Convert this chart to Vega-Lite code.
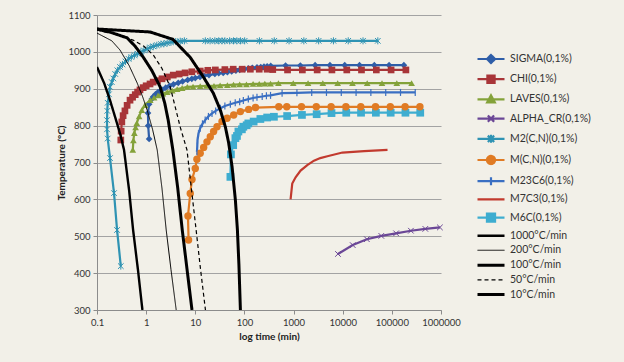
{
  "$schema": "https://vega.github.io/schema/vega-lite/v6.json",
  "autosize": "none",
  "width": 344,
  "height": 295,
  "padding": {"left": 97, "top": 15, "right": 183, "bottom": 52},
  "background": "#f2f0e8",
  "config": {
    "view": {"stroke": null},
    "font": "Lato",
    "axis": {"labelFont": "Lato", "labelFontSize": 9.5, "labelColor": "#333333", "titleFont": "Lato", "titleFontSize": 10, "titleFontWeight": "bold", "titleColor": "#222222", "domainColor": "#8c8c8c", "tickColor": "#8c8c8c", "tickSize": 4},
    "legend": {"orient": "none", "legendX": 388, "legendY": 38, "title": null, "symbolSize": 81, "labelOffset": 13, "rowPadding": 3.2, "columns": 1, "labelAlign": "left", "labelFont": "Lato", "labelFontSize": 10.5, "labelColor": "#333333", "padding": 0}
  },
  "datasets": {
    "d": [
      {"s":"SIGMA(0,1%)","t":1.15,"T":764},{"s":"SIGMA(0,1%)","t":1.1,"T":800},{"s":"SIGMA(0,1%)","t":1.09,"T":834},{"s":"SIGMA(0,1%)","t":1.15,"T":858},{"s":"SIGMA(0,1%)","t":1.3,"T":872},{"s":"SIGMA(0,1%)","t":1.39,"T":878},{"s":"SIGMA(0,1%)","t":1.55,"T":885},{"s":"SIGMA(0,1%)","t":1.75,"T":891},{"s":"SIGMA(0,1%)","t":2.12,"T":897},{"s":"SIGMA(0,1%)","t":2.5,"T":903},{"s":"SIGMA(0,1%)","t":3,"T":908},{"s":"SIGMA(0,1%)","t":3.6,"T":912},{"s":"SIGMA(0,1%)","t":4.5,"T":916},{"s":"SIGMA(0,1%)","t":5.5,"T":920},{"s":"SIGMA(0,1%)","t":7,"T":924},{"s":"SIGMA(0,1%)","t":8.5,"T":927},{"s":"SIGMA(0,1%)","t":10,"T":929},{"s":"SIGMA(0,1%)","t":12.5,"T":932},{"s":"SIGMA(0,1%)","t":15,"T":935},{"s":"SIGMA(0,1%)","t":19,"T":937},{"s":"SIGMA(0,1%)","t":25,"T":940},{"s":"SIGMA(0,1%)","t":30,"T":942},{"s":"SIGMA(0,1%)","t":37,"T":943},{"s":"SIGMA(0,1%)","t":45,"T":945},{"s":"SIGMA(0,1%)","t":55,"T":947},{"s":"SIGMA(0,1%)","t":67,"T":949},{"s":"SIGMA(0,1%)","t":80,"T":951},{"s":"SIGMA(0,1%)","t":100,"T":953},{"s":"SIGMA(0,1%)","t":120,"T":955},{"s":"SIGMA(0,1%)","t":145,"T":957},{"s":"SIGMA(0,1%)","t":180,"T":958},{"s":"SIGMA(0,1%)","t":215,"T":959},{"s":"SIGMA(0,1%)","t":250,"T":960},{"s":"SIGMA(0,1%)","t":290,"T":961},{"s":"SIGMA(0,1%)","t":343,"T":962},{"s":"SIGMA(0,1%)","t":687,"T":963},{"s":"SIGMA(0,1%)","t":1373,"T":963},{"s":"SIGMA(0,1%)","t":2747,"T":964},{"s":"SIGMA(0,1%)","t":5494,"T":964},{"s":"SIGMA(0,1%)","t":10987,"T":964},{"s":"SIGMA(0,1%)","t":21975,"T":964},{"s":"SIGMA(0,1%)","t":43950,"T":964},{"s":"SIGMA(0,1%)","t":87900,"T":964},{"s":"SIGMA(0,1%)","t":175800,"T":964},

      {"s":"CHI(0,1%)","t":0.305,"T":761},{"s":"CHI(0,1%)","t":0.31,"T":785},{"s":"CHI(0,1%)","t":0.32,"T":810},{"s":"CHI(0,1%)","t":0.34,"T":827},{"s":"CHI(0,1%)","t":0.37,"T":840},{"s":"CHI(0,1%)","t":0.41,"T":855},{"s":"CHI(0,1%)","t":0.47,"T":869},{"s":"CHI(0,1%)","t":0.53,"T":877},{"s":"CHI(0,1%)","t":0.6,"T":884},{"s":"CHI(0,1%)","t":0.67,"T":891},{"s":"CHI(0,1%)","t":0.75,"T":897},{"s":"CHI(0,1%)","t":0.87,"T":903},{"s":"CHI(0,1%)","t":1,"T":908},{"s":"CHI(0,1%)","t":1.2,"T":913},{"s":"CHI(0,1%)","t":1.39,"T":918},{"s":"CHI(0,1%)","t":1.7,"T":922},{"s":"CHI(0,1%)","t":2.1,"T":927},{"s":"CHI(0,1%)","t":2.7,"T":932},{"s":"CHI(0,1%)","t":3.56,"T":937},{"s":"CHI(0,1%)","t":4.7,"T":940},{"s":"CHI(0,1%)","t":6.2,"T":943},{"s":"CHI(0,1%)","t":8.5,"T":946},{"s":"CHI(0,1%)","t":12.6,"T":948},{"s":"CHI(0,1%)","t":18,"T":950},{"s":"CHI(0,1%)","t":25.6,"T":951},{"s":"CHI(0,1%)","t":40,"T":952},{"s":"CHI(0,1%)","t":59,"T":953},{"s":"CHI(0,1%)","t":90,"T":953},{"s":"CHI(0,1%)","t":132,"T":953},{"s":"CHI(0,1%)","t":200,"T":953},{"s":"CHI(0,1%)","t":290,"T":953},{"s":"CHI(0,1%)","t":377,"T":952},{"s":"CHI(0,1%)","t":754,"T":951},{"s":"CHI(0,1%)","t":1510,"T":951},{"s":"CHI(0,1%)","t":3020,"T":951},{"s":"CHI(0,1%)","t":6030,"T":951},{"s":"CHI(0,1%)","t":12100,"T":951},{"s":"CHI(0,1%)","t":24100,"T":951},{"s":"CHI(0,1%)","t":48300,"T":951},{"s":"CHI(0,1%)","t":96500,"T":951},{"s":"CHI(0,1%)","t":193000,"T":951},

      {"s":"LAVES(0,1%)","t":0.535,"T":734},{"s":"LAVES(0,1%)","t":0.55,"T":760},{"s":"LAVES(0,1%)","t":0.575,"T":780},{"s":"LAVES(0,1%)","t":0.61,"T":795},{"s":"LAVES(0,1%)","t":0.645,"T":807},{"s":"LAVES(0,1%)","t":0.72,"T":825},{"s":"LAVES(0,1%)","t":0.815,"T":842},{"s":"LAVES(0,1%)","t":0.95,"T":856},{"s":"LAVES(0,1%)","t":1.21,"T":869},{"s":"LAVES(0,1%)","t":1.45,"T":876},{"s":"LAVES(0,1%)","t":1.75,"T":882},{"s":"LAVES(0,1%)","t":2.2,"T":887},{"s":"LAVES(0,1%)","t":2.68,"T":891},{"s":"LAVES(0,1%)","t":3.4,"T":895},{"s":"LAVES(0,1%)","t":4.28,"T":899},{"s":"LAVES(0,1%)","t":5.4,"T":902},{"s":"LAVES(0,1%)","t":6.87,"T":905},{"s":"LAVES(0,1%)","t":9,"T":906},{"s":"LAVES(0,1%)","t":12.6,"T":907},{"s":"LAVES(0,1%)","t":17,"T":908},{"s":"LAVES(0,1%)","t":24,"T":908},{"s":"LAVES(0,1%)","t":32,"T":909},{"s":"LAVES(0,1%)","t":45,"T":910},{"s":"LAVES(0,1%)","t":60,"T":911},{"s":"LAVES(0,1%)","t":80,"T":912},{"s":"LAVES(0,1%)","t":110,"T":912},{"s":"LAVES(0,1%)","t":150,"T":913},{"s":"LAVES(0,1%)","t":200,"T":913},{"s":"LAVES(0,1%)","t":260,"T":914},{"s":"LAVES(0,1%)","t":340,"T":914},{"s":"LAVES(0,1%)","t":492,"T":915},{"s":"LAVES(0,1%)","t":985,"T":915},{"s":"LAVES(0,1%)","t":1970,"T":915},{"s":"LAVES(0,1%)","t":3940,"T":915},{"s":"LAVES(0,1%)","t":7900,"T":915},{"s":"LAVES(0,1%)","t":15800,"T":915},{"s":"LAVES(0,1%)","t":31500,"T":915},{"s":"LAVES(0,1%)","t":63000,"T":915},{"s":"LAVES(0,1%)","t":126000,"T":915},{"s":"LAVES(0,1%)","t":252000,"T":915},

      {"s":"ALPHA_CR(0,1%)","t":8000,"T":452},{"s":"ALPHA_CR(0,1%)","t":16000,"T":476},{"s":"ALPHA_CR(0,1%)","t":31000,"T":492},{"s":"ALPHA_CR(0,1%)","t":61000,"T":501},{"s":"ALPHA_CR(0,1%)","t":122000,"T":508},{"s":"ALPHA_CR(0,1%)","t":244000,"T":515},{"s":"ALPHA_CR(0,1%)","t":480000,"T":520},{"s":"ALPHA_CR(0,1%)","t":950000,"T":524},

      {"s":"M2(C,N)(0,1%)","t":0.305,"T":419},{"s":"M2(C,N)(0,1%)","t":0.256,"T":517},{"s":"M2(C,N)(0,1%)","t":0.222,"T":617},{"s":"M2(C,N)(0,1%)","t":0.184,"T":712},{"s":"M2(C,N)(0,1%)","t":0.165,"T":765},{"s":"M2(C,N)(0,1%)","t":0.16,"T":790},{"s":"M2(C,N)(0,1%)","t":0.16,"T":815},{"s":"M2(C,N)(0,1%)","t":0.162,"T":840},{"s":"M2(C,N)(0,1%)","t":0.165,"T":862},{"s":"M2(C,N)(0,1%)","t":0.175,"T":885},{"s":"M2(C,N)(0,1%)","t":0.184,"T":905},{"s":"M2(C,N)(0,1%)","t":0.2,"T":918},{"s":"M2(C,N)(0,1%)","t":0.215,"T":928},{"s":"M2(C,N)(0,1%)","t":0.235,"T":940},{"s":"M2(C,N)(0,1%)","t":0.26,"T":950},{"s":"M2(C,N)(0,1%)","t":0.294,"T":959},{"s":"M2(C,N)(0,1%)","t":0.33,"T":966},{"s":"M2(C,N)(0,1%)","t":0.38,"T":974},{"s":"M2(C,N)(0,1%)","t":0.44,"T":981},{"s":"M2(C,N)(0,1%)","t":0.5,"T":986},{"s":"M2(C,N)(0,1%)","t":0.58,"T":991},{"s":"M2(C,N)(0,1%)","t":0.67,"T":995},{"s":"M2(C,N)(0,1%)","t":0.78,"T":1000},{"s":"M2(C,N)(0,1%)","t":0.9,"T":1004},{"s":"M2(C,N)(0,1%)","t":1.05,"T":1008},{"s":"M2(C,N)(0,1%)","t":1.21,"T":1012},{"s":"M2(C,N)(0,1%)","t":1.4,"T":1015},{"s":"M2(C,N)(0,1%)","t":1.65,"T":1018},{"s":"M2(C,N)(0,1%)","t":2,"T":1021},{"s":"M2(C,N)(0,1%)","t":2.3,"T":1022},{"s":"M2(C,N)(0,1%)","t":2.68,"T":1024},{"s":"M2(C,N)(0,1%)","t":3.2,"T":1026},{"s":"M2(C,N)(0,1%)","t":4,"T":1028},{"s":"M2(C,N)(0,1%)","t":4.94,"T":1029},{"s":"M2(C,N)(0,1%)","t":6,"T":1030},{"s":"M2(C,N)(0,1%)","t":16,"T":1030},{"s":"M2(C,N)(0,1%)","t":20,"T":1030},{"s":"M2(C,N)(0,1%)","t":25,"T":1030},{"s":"M2(C,N)(0,1%)","t":30,"T":1030},{"s":"M2(C,N)(0,1%)","t":35,"T":1030},{"s":"M2(C,N)(0,1%)","t":40,"T":1030},{"s":"M2(C,N)(0,1%)","t":50,"T":1030},{"s":"M2(C,N)(0,1%)","t":60,"T":1030},{"s":"M2(C,N)(0,1%)","t":70,"T":1030},{"s":"M2(C,N)(0,1%)","t":83,"T":1030},{"s":"M2(C,N)(0,1%)","t":101,"T":1030},{"s":"M2(C,N)(0,1%)","t":202,"T":1030},{"s":"M2(C,N)(0,1%)","t":405,"T":1030},{"s":"M2(C,N)(0,1%)","t":809,"T":1030},{"s":"M2(C,N)(0,1%)","t":1619,"T":1030},{"s":"M2(C,N)(0,1%)","t":3237,"T":1030},{"s":"M2(C,N)(0,1%)","t":6475,"T":1030},{"s":"M2(C,N)(0,1%)","t":12950,"T":1030},{"s":"M2(C,N)(0,1%)","t":25900,"T":1030},{"s":"M2(C,N)(0,1%)","t":51800,"T":1030},

      {"s":"M(C,N)(0,1%)","t":7.3,"T":490},{"s":"M(C,N)(0,1%)","t":7.1,"T":555},{"s":"M(C,N)(0,1%)","t":7.9,"T":616},{"s":"M(C,N)(0,1%)","t":8.57,"T":654},{"s":"M(C,N)(0,1%)","t":10,"T":684},{"s":"M(C,N)(0,1%)","t":10.8,"T":709},{"s":"M(C,N)(0,1%)","t":12.6,"T":725},{"s":"M(C,N)(0,1%)","t":14.8,"T":741},{"s":"M(C,N)(0,1%)","t":17.3,"T":756},{"s":"M(C,N)(0,1%)","t":20.2,"T":770},{"s":"M(C,N)(0,1%)","t":23.6,"T":784},{"s":"M(C,N)(0,1%)","t":27.7,"T":797},{"s":"M(C,N)(0,1%)","t":35,"T":811},{"s":"M(C,N)(0,1%)","t":44.4,"T":820},{"s":"M(C,N)(0,1%)","t":60.5,"T":829},{"s":"M(C,N)(0,1%)","t":82.8,"T":838},{"s":"M(C,N)(0,1%)","t":122,"T":844},{"s":"M(C,N)(0,1%)","t":168,"T":849},{"s":"M(C,N)(0,1%)","t":500,"T":851},{"s":"M(C,N)(0,1%)","t":727,"T":851},{"s":"M(C,N)(0,1%)","t":1450,"T":851},{"s":"M(C,N)(0,1%)","t":2900,"T":851},{"s":"M(C,N)(0,1%)","t":5810,"T":851},{"s":"M(C,N)(0,1%)","t":11600,"T":851},{"s":"M(C,N)(0,1%)","t":23300,"T":851},{"s":"M(C,N)(0,1%)","t":46500,"T":851},{"s":"M(C,N)(0,1%)","t":93000,"T":851},{"s":"M(C,N)(0,1%)","t":186000,"T":851},{"s":"M(C,N)(0,1%)","t":372000,"T":851},

      {"s":"M23C6(0,1%)","t":10.8,"T":729},{"s":"M23C6(0,1%)","t":11,"T":745},{"s":"M23C6(0,1%)","t":11.1,"T":761},{"s":"M23C6(0,1%)","t":11.6,"T":778},{"s":"M23C6(0,1%)","t":12.6,"T":793},{"s":"M23C6(0,1%)","t":14,"T":805},{"s":"M23C6(0,1%)","t":15.9,"T":815},{"s":"M23C6(0,1%)","t":18.5,"T":825},{"s":"M23C6(0,1%)","t":21.9,"T":833},{"s":"M23C6(0,1%)","t":26,"T":840},{"s":"M23C6(0,1%)","t":32.4,"T":847},{"s":"M23C6(0,1%)","t":40,"T":853},{"s":"M23C6(0,1%)","t":51.7,"T":858},{"s":"M23C6(0,1%)","t":65,"T":862},{"s":"M23C6(0,1%)","t":80,"T":865},{"s":"M23C6(0,1%)","t":95,"T":868},{"s":"M23C6(0,1%)","t":120,"T":872},{"s":"M23C6(0,1%)","t":150,"T":875},{"s":"M23C6(0,1%)","t":180,"T":877},{"s":"M23C6(0,1%)","t":230,"T":879},{"s":"M23C6(0,1%)","t":280,"T":881},{"s":"M23C6(0,1%)","t":340,"T":882},{"s":"M23C6(0,1%)","t":584,"T":888},{"s":"M23C6(0,1%)","t":1170,"T":889},{"s":"M23C6(0,1%)","t":2340,"T":890},{"s":"M23C6(0,1%)","t":4670,"T":890},{"s":"M23C6(0,1%)","t":9350,"T":890},{"s":"M23C6(0,1%)","t":18700,"T":890},{"s":"M23C6(0,1%)","t":37400,"T":890},{"s":"M23C6(0,1%)","t":75000,"T":890},{"s":"M23C6(0,1%)","t":150000,"T":890},{"s":"M23C6(0,1%)","t":299000,"T":890},

      {"s":"M7C3(0,1%)","t":869,"T":600},{"s":"M7C3(0,1%)","t":940,"T":643},{"s":"M7C3(0,1%)","t":1100,"T":660},{"s":"M7C3(0,1%)","t":1390,"T":678},{"s":"M7C3(0,1%)","t":1900,"T":693},{"s":"M7C3(0,1%)","t":2600,"T":705},{"s":"M7C3(0,1%)","t":3500,"T":712},{"s":"M7C3(0,1%)","t":4870,"T":717},{"s":"M7C3(0,1%)","t":9860,"T":727},{"s":"M7C3(0,1%)","t":27200,"T":731},{"s":"M7C3(0,1%)","t":81600,"T":734},

      {"s":"M6C(0,1%)","t":51.8,"T":661},{"s":"M6C(0,1%)","t":53.1,"T":722},{"s":"M6C(0,1%)","t":59,"T":747},{"s":"M6C(0,1%)","t":65.5,"T":766},{"s":"M6C(0,1%)","t":70.5,"T":772},{"s":"M6C(0,1%)","t":75.4,"T":784},{"s":"M6C(0,1%)","t":88.7,"T":790},{"s":"M6C(0,1%)","t":95,"T":797},{"s":"M6C(0,1%)","t":111,"T":801},{"s":"M6C(0,1%)","t":120,"T":806},{"s":"M6C(0,1%)","t":154,"T":811},{"s":"M6C(0,1%)","t":211,"T":818},{"s":"M6C(0,1%)","t":290,"T":822},{"s":"M6C(0,1%)","t":398,"T":824},{"s":"M6C(0,1%)","t":740,"T":826},{"s":"M6C(0,1%)","t":1480,"T":829},{"s":"M6C(0,1%)","t":2950,"T":831},{"s":"M6C(0,1%)","t":5910,"T":834},{"s":"M6C(0,1%)","t":11800,"T":835},{"s":"M6C(0,1%)","t":23600,"T":835},{"s":"M6C(0,1%)","t":47300,"T":835},{"s":"M6C(0,1%)","t":94600,"T":835},{"s":"M6C(0,1%)","t":189000,"T":835},{"s":"M6C(0,1%)","t":378000,"T":835},

      {"s":"1000°C/min","t":0.1,"T":959},{"s":"1000°C/min","t":0.14,"T":915},{"s":"1000°C/min","t":0.184,"T":869},{"s":"1000°C/min","t":0.244,"T":815},{"s":"1000°C/min","t":0.3,"T":775},{"s":"1000°C/min","t":0.355,"T":734},{"s":"1000°C/min","t":0.45,"T":625},{"s":"1000°C/min","t":0.543,"T":517},{"s":"1000°C/min","t":0.68,"T":410},{"s":"1000°C/min","t":0.84,"T":300},

      {"s":"200°C/min","t":0.1,"T":1051},{"s":"200°C/min","t":0.2,"T":1030},{"s":"200°C/min","t":0.294,"T":1005},{"s":"200°C/min","t":0.45,"T":963},{"s":"200°C/min","t":0.655,"T":916},{"s":"200°C/min","t":0.85,"T":878},{"s":"200°C/min","t":1.05,"T":842},{"s":"200°C/min","t":1.35,"T":790},{"s":"200°C/min","t":1.68,"T":734},{"s":"200°C/min","t":2.1,"T":630},{"s":"200°C/min","t":2.56,"T":517},{"s":"200°C/min","t":3.2,"T":410},{"s":"200°C/min","t":4.09,"T":300},

      {"s":"100°C/min","t":0.1,"T":1062},{"s":"100°C/min","t":0.2,"T":1052},{"s":"100°C/min","t":0.41,"T":1038},{"s":"100°C/min","t":0.6,"T":1015},{"s":"100°C/min","t":0.87,"T":986},{"s":"100°C/min","t":1.3,"T":950},{"s":"100°C/min","t":1.93,"T":905},{"s":"100°C/min","t":2.4,"T":860},{"s":"100°C/min","t":2.81,"T":815},{"s":"100°C/min","t":3.5,"T":734},{"s":"100°C/min","t":4.4,"T":630},{"s":"100°C/min","t":5.43,"T":517},{"s":"100°C/min","t":6.8,"T":410},{"s":"100°C/min","t":8.57,"T":300},

      {"s":"50°C/min","t":0.1,"T":1059},{"s":"50°C/min","t":0.25,"T":1048},{"s":"50°C/min","t":0.54,"T":1032},{"s":"50°C/min","t":0.9,"T":1015},{"s":"50°C/min","t":1.39,"T":992},{"s":"50°C/min","t":2.1,"T":955},{"s":"50°C/min","t":3.09,"T":905},{"s":"50°C/min","t":4.94,"T":796},{"s":"50°C/min","t":6.78,"T":734},{"s":"50°C/min","t":8.53,"T":617},{"s":"50°C/min","t":10.4,"T":517},{"s":"50°C/min","t":12.8,"T":410},{"s":"50°C/min","t":16.1,"T":300},

      {"s":"10°C/min","t":0.1,"T":1062},{"s":"10°C/min","t":1.2,"T":1054},{"s":"10°C/min","t":3.5,"T":1034},{"s":"10°C/min","t":7.9,"T":985},{"s":"10°C/min","t":14.6,"T":932},{"s":"10°C/min","t":23.3,"T":888},{"s":"10°C/min","t":32.4,"T":842},{"s":"10°C/min","t":41,"T":796},{"s":"10°C/min","t":47.8,"T":753},{"s":"10°C/min","t":56.1,"T":688},{"s":"10°C/min","t":65.5,"T":598},{"s":"10°C/min","t":72,"T":517},{"s":"10°C/min","t":77.3,"T":422},{"s":"10°C/min","t":82.8,"T":300}
    ]
  },
  "data": {"name": "d"},
  "encoding": {
    "x": {"field": "t", "type": "quantitative", "scale": {"type": "log", "domain": [0.1, 1000000], "nice": false},
      "axis": {"title": "log time (min)", "values": [0.1, 1, 10, 100, 1000, 10000, 100000, 1000000], "format": ".1~f", "grid": false, "labelPadding": 3, "titlePadding": 5, "labelFlush": false}},
    "y": {"field": "T", "type": "quantitative", "scale": {"domain": [300, 1100], "nice": false, "zero": false},
      "axis": {"title": "Temperature (°C)", "values": [300, 400, 500, 600, 700, 800, 900, 1000, 1100], "format": "d", "grid": true, "gridColor": "#a3a3a3", "labelPadding": 3, "titlePadding": 1}},
    "color": {"field": "s", "type": "nominal",
      "legend": {"labelAlign": "left", "columns": 1, "encode": {"symbols": {"update": {"stroke": {"scale": "color", "field": "value"}, "fill": {"scale": "color", "field": "value"}}}, "labels": {"update": {"align": {"value": "left"}}}}},
      "scale": {"domain": ["SIGMA(0,1%)","CHI(0,1%)","LAVES(0,1%)","ALPHA_CR(0,1%)","M2(C,N)(0,1%)","M(C,N)(0,1%)","M23C6(0,1%)","M7C3(0,1%)","M6C(0,1%)","1000°C/min","200°C/min","100°C/min","50°C/min","10°C/min"],
        "range": ["#2f5ea8","#a83538","#84a23a","#6b4796","#2f93b3","#e07b24","#3a6fc2","#c23a2e","#3eadd0","#000000","#000000","#000000","#000000","#000000"]}}
  },
  "layer": [
    {
      "transform": [{"filter": {"field": "s", "oneOf": ["SIGMA(0,1%)","CHI(0,1%)","LAVES(0,1%)","ALPHA_CR(0,1%)","M2(C,N)(0,1%)","M(C,N)(0,1%)","M23C6(0,1%)","M7C3(0,1%)","M6C(0,1%)"]}}],
      "mark": {"type": "line", "strokeWidth": 2.2, "clip": true},
      "encoding": {"order": {"value": null}}
    },
    {
      "transform": [{"filter": {"field": "s", "equal": "SIGMA(0,1%)"}}],
      "mark": {"type": "point", "shape": "diamond", "filled": true, "opacity": 1, "size": 45}
    },
    {
      "transform": [{"filter": {"field": "s", "oneOf": ["CHI(0,1%)"]}}],
      "mark": {"type": "point", "shape": "square", "filled": true, "opacity": 1, "size": 45}
    },
    {
      "transform": [{"filter": {"field": "s", "oneOf": ["M6C(0,1%)"]}}],
      "mark": {"type": "point", "shape": "square", "filled": true, "opacity": 1, "size": 60}
    },
    {
      "transform": [{"filter": {"field": "s", "equal": "LAVES(0,1%)"}}],
      "mark": {"type": "point", "shape": "triangle-up", "filled": true, "opacity": 1, "size": 45}
    },
    {
      "transform": [{"filter": {"field": "s", "equal": "M(C,N)(0,1%)"}}],
      "mark": {"type": "point", "shape": "circle", "filled": true, "opacity": 1, "size": 55}
    },
    {
      "transform": [{"filter": {"field": "s", "equal": "ALPHA_CR(0,1%)"}}],
      "mark": {"type": "point", "shape": "M-0.8,-0.8L0.8,0.8M-0.8,0.8L0.8,-0.8", "filled": false, "opacity": 1, "strokeWidth": 1, "size": 49}
    },
    {
      "transform": [{"filter": {"field": "s", "equal": "M2(C,N)(0,1%)"}}],
      "mark": {"type": "point", "shape": "M-0.8,-0.8L0.8,0.8M-0.8,0.8L0.8,-0.8M0,-1V1", "filled": false, "opacity": 1, "strokeWidth": 1, "size": 49}
    },
    {
      "transform": [{"filter": {"field": "s", "equal": "M23C6(0,1%)"}}],
      "mark": {"type": "point", "shape": "M0,-1V1", "filled": false, "opacity": 1, "strokeWidth": 1.2, "size": 49}
    },
    {
      "transform": [{"filter": {"field": "s", "oneOf": ["1000°C/min","200°C/min","100°C/min","50°C/min","10°C/min"]}}],
      "mark": {"type": "line", "clip": true},
      "encoding": {
        "strokeWidth": {"field": "s", "type": "nominal",
          "scale": {"type": "ordinal", "domain": ["SIGMA(0,1%)","CHI(0,1%)","LAVES(0,1%)","ALPHA_CR(0,1%)","M2(C,N)(0,1%)","M(C,N)(0,1%)","M23C6(0,1%)","M7C3(0,1%)","M6C(0,1%)","1000°C/min","200°C/min","100°C/min","50°C/min","10°C/min"],
            "range": [2.2,2.2,2.2,2.2,2.2,2.2,2.2,2.2,2.2,2.4,1,3,1.2,3]}},
        "strokeDash": {"field": "s", "type": "nominal",
          "scale": {"domain": ["SIGMA(0,1%)","CHI(0,1%)","LAVES(0,1%)","ALPHA_CR(0,1%)","M2(C,N)(0,1%)","M(C,N)(0,1%)","M23C6(0,1%)","M7C3(0,1%)","M6C(0,1%)","1000°C/min","200°C/min","100°C/min","50°C/min","10°C/min"],
            "range": [[1,0],[1,0],[1,0],[1,0],[1,0],[1,0],[1,0],[1,0],[1,0],[1,0],[1,0],[1,0],[4,3],[1,0]]}}
      }
    },
    {
      "transform": [{"filter": "false"}],
      "mark": {"type": "point", "filled": true, "opacity": 1},
      "encoding": {
        "shape": {"field": "s", "type": "nominal",
          "scale": {"domain": ["SIGMA(0,1%)","CHI(0,1%)","LAVES(0,1%)","ALPHA_CR(0,1%)","M2(C,N)(0,1%)","M(C,N)(0,1%)","M23C6(0,1%)","M7C3(0,1%)","M6C(0,1%)","1000°C/min","200°C/min","100°C/min","50°C/min","10°C/min"],
            "range": ["M-3,0H3M0,-0.9L0.9,0L0,0.9L-0.9,0Z","M-3,0H3M-0.8,-0.8H0.8V0.8H-0.8Z","M-3,0H3M0,-0.9L0.85,0.65H-0.85Z","M-3,0H3M-0.7,-0.7L0.7,0.7M-0.7,0.7L0.7,-0.7","M-3,0H3M-0.7,-0.7L0.7,0.7M-0.7,0.7L0.7,-0.7M0,-0.9V0.9","M-3,0H3M-0.9,0A0.9,0.9,0,1,1,0.9,0A0.9,0.9,0,1,1,-0.9,0Z","M-3,0H3M0,-0.9V0.9","M-3,0H3","M-3,0H3M-0.9,-0.9H0.9V0.9H-0.9Z","M-3,0H3","M-3,0H3","M-3,0H3","M-3,0H3","M-3,0H3"]}},
        "strokeWidth": {"field": "s", "type": "nominal",
          "scale": {"type": "ordinal", "domain": ["SIGMA(0,1%)","CHI(0,1%)","LAVES(0,1%)","ALPHA_CR(0,1%)","M2(C,N)(0,1%)","M(C,N)(0,1%)","M23C6(0,1%)","M7C3(0,1%)","M6C(0,1%)","1000°C/min","200°C/min","100°C/min","50°C/min","10°C/min"],
            "range": [2.2,2.2,2.2,2.2,2.2,2.2,2.2,2.2,2.2,2.4,1,3,1.2,3]}},
        "strokeDash": {"field": "s", "type": "nominal",
          "scale": {"domain": ["SIGMA(0,1%)","CHI(0,1%)","LAVES(0,1%)","ALPHA_CR(0,1%)","M2(C,N)(0,1%)","M(C,N)(0,1%)","M23C6(0,1%)","M7C3(0,1%)","M6C(0,1%)","1000°C/min","200°C/min","100°C/min","50°C/min","10°C/min"],
            "range": [[1,0],[1,0],[1,0],[1,0],[1,0],[1,0],[1,0],[1,0],[1,0],[1,0],[1,0],[1,0],[4,3],[1,0]]}}
      }
    }
  ]
}
